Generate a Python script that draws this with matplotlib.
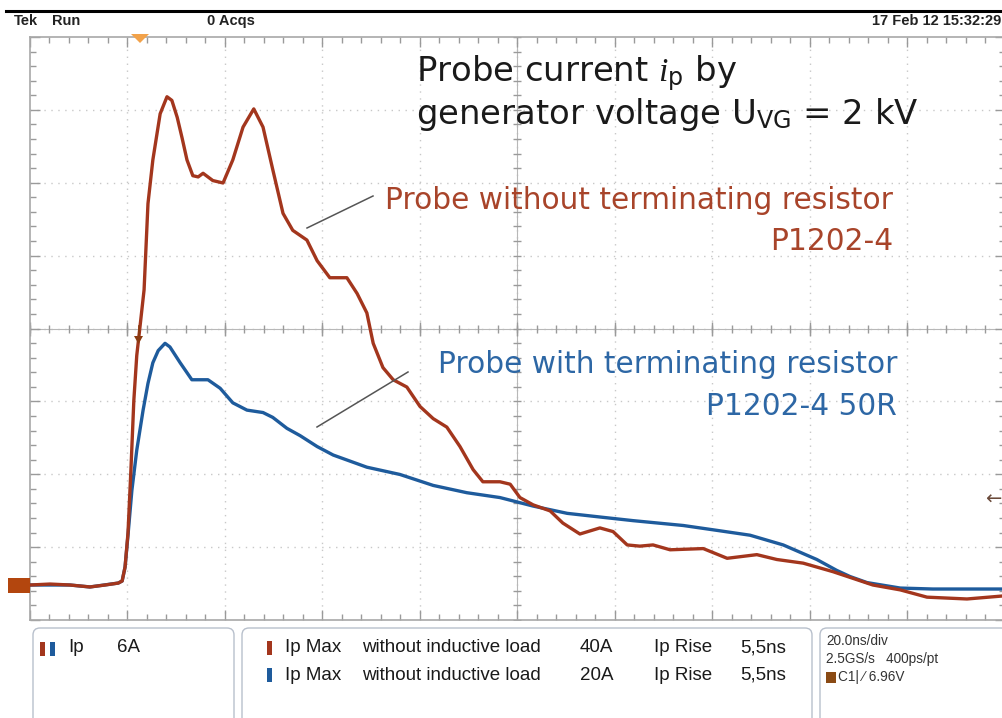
import numpy as np
import matplotlib
matplotlib.use("Agg")
import matplotlib.pyplot as plt
from matplotlib.patches import FancyBboxPatch, Polygon, Rectangle
from matplotlib.transforms import IdentityTransform
from matplotlib.lines import Line2D

# ---------------- data (time in ns, current in A) ----------------
t_red = [0.0, 4.1, 8.2, 12.3, 15.4, 18.1, 18.9, 19.5, 20.1, 20.7, 21.3, 21.9, 22.6, 23.4,
         24.2, 25.2, 26.7, 28.1, 29.1, 30.2, 31.2, 32.2, 33.4, 34.5, 35.5, 37.5, 39.6,
         41.6, 43.7, 45.9, 47.8, 49.8, 51.9, 53.9, 56.8, 58.9, 61.5, 65.0, 67.1, 69.1,
         70.4, 72.4, 74.5, 77.3, 80.0, 82.7, 85.5, 88.2, 90.9, 92.9, 96.4, 98.5, 100.5,
         103.2, 106.7, 109.3, 112.8, 116.9, 119.6, 122.5, 125.1, 127.8, 131.3, 138.1,
         143.0, 149.1, 153.2, 158.6, 164.7, 172.9, 178.5, 184.0, 192.2, 199.6]
i_red = [0.0, 0.08, 0.0, -0.16, 0.0, 0.16, 0.33, 1.48, 4.28, 9.47, 15.2, 18.9, 21.4, 24.3,
         31.4, 35.0, 38.8, 40.2, 39.9, 38.5, 36.8, 35.0, 33.7, 33.6, 33.9, 33.3, 33.1,
         35.0, 37.7, 39.2, 37.7, 34.2, 30.6, 29.2, 28.4, 26.7, 25.3, 25.3, 24.0, 22.4,
         19.9, 17.9, 16.9, 16.3, 14.7, 13.7, 13.0, 11.4, 9.5, 8.5, 8.5, 8.3, 7.2,
         6.6, 6.1, 5.1, 4.2, 4.7, 4.4, 3.3, 3.2, 3.3, 2.9, 3.0,
         2.2, 2.5, 2.1, 1.8, 1.1, 0.0, -0.4, -1.0, -1.15, -0.9]

t_blue = [0.0, 8.2, 12.3, 18.1, 18.9, 19.5, 20.1, 20.9, 21.9, 23.2, 24.2, 25.2, 26.3, 27.7,
          28.7, 30.8, 33.2, 34.9, 36.5, 39.0, 41.6, 44.5, 47.8, 49.8, 52.7, 55.4, 58.9,
          62.2, 69.1, 75.9, 82.7, 89.6, 96.4, 103.2, 110.2, 116.9, 123.7, 134.0, 140.9,
          147.7, 154.5, 161.4, 165.5, 168.2, 171.7, 178.5, 185.2, 199.6]
i_blue = [0.0, 0.0, -0.16, 0.16, 0.33, 1.48, 4.1, 7.8, 11.1, 14.4, 16.6, 18.3, 19.3, 19.9,
          19.6, 18.3, 16.9, 16.9, 16.9, 16.2, 15.0, 14.4, 14.2, 13.8, 12.9, 12.3, 11.4,
          10.7, 9.7, 9.1, 8.2, 7.6, 7.2, 6.5, 5.9, 5.6, 5.3, 4.9, 4.5,
          4.1, 3.3, 2.1, 1.2, 0.7, 0.2, -0.25, -0.33, -0.33]

ns_per_div = 20.0
amp_per_div = 6.0
n_xdiv, n_ydiv = 10, 8
zero_offset_div = 35 / 72.9   # ground marker sits this many divisions above the bottom

# ---------------- figure ----------------
W, H = 1003, 718
plt.rcParams['mathtext.fontset'] = 'custom'
plt.rcParams['mathtext.it'] = 'Liberation Serif:italic'
plt.rcParams['mathtext.rm'] = 'DejaVu Sans'
plt.rcParams['mathtext.sf'] = 'DejaVu Sans'

fig = plt.figure(figsize=(W / 100, H / 100), dpi=100)
fig.patch.set_facecolor('white')
PX = IdentityTransform()


def P(x, y):
    return x, H - y


ax = fig.add_axes([30 / W, 1 - 620 / H, 975 / W, 583 / H])
ax.set_facecolor('white')
y_lo = -zero_offset_div * amp_per_div
ax.set_xlim(0, n_xdiv * ns_per_div)
ax.set_ylim(y_lo, y_lo + n_ydiv * amp_per_div)

grid_c = '#c8c8c8'
xmaj = np.arange(0, n_xdiv + 1) * ns_per_div
ymaj = y_lo + np.arange(0, n_ydiv + 1) * amp_per_div
for x in xmaj[1:-1]:
    ax.axvline(x, color=grid_c, lw=1.0, ls=(0, (1, 4)), zorder=1)
for y in ymaj[1:-1]:
    ax.axhline(y, color=grid_c, lw=1.0, ls=(0, (1, 4)), zorder=1)

xc = n_xdiv / 2 * ns_per_div
yc = y_lo + n_ydiv / 2 * amp_per_div
ax.axvline(xc, color='#b8b8b8', lw=0.8, zorder=1)
ax.axhline(yc, color='#b8b8b8', lw=0.8, zorder=1)
xmin_t = np.arange(0, n_xdiv * 5 + 1) * ns_per_div / 5
ymin_t = y_lo + np.arange(0, n_ydiv * 5 + 1) * amp_per_div / 5
ax.plot(xmin_t, np.full_like(xmin_t, yc), ls='none', marker='|', ms=6, mew=1.0, color='#9a9a9a', zorder=1)
ax.plot(np.full_like(ymin_t, xc), ymin_t, ls='none', marker='_', ms=6, mew=1.0, color='#9a9a9a', zorder=1)
ax.plot(xmaj, np.full_like(xmaj, yc), ls='none', marker='|', ms=10, mew=1.0, color='#9a9a9a', zorder=1)

ax.set_xticks(xmaj)
ax.set_yticks(ymaj)
ax.set_xticks(xmin_t, minor=True)
ax.set_yticks(ymin_t, minor=True)
ax.tick_params(which='both', direction='in', colors='#9a9a9a', labelbottom=False, labelleft=False,
               top=True, right=True)
ax.tick_params(which='major', length=7, width=1.0)
ax.tick_params(which='minor', length=4, width=1.0)
for s in ax.spines.values():
    s.set_color('#a8a8a8')
    s.set_linewidth(1.2)

red = '#A3361D'
blue = '#1E5B9C'
ax.plot(t_blue, i_blue, color=blue, lw=2.4, solid_joinstyle='round', zorder=3)
ax.plot(t_red, i_red, color=red, lw=2.4, solid_joinstyle='round', zorder=4)

# ---------------- header ----------------
fig.add_artist(Line2D([6 / W, 1], [1 - 11 / H, 1 - 11 / H], color='black', lw=2.2))
hdr = dict(family='Liberation Sans', fontsize=10.5, fontweight='bold', color='#222222', va='center')
fig.text(*P(14, 21), 'Tek', transform=PX, **hdr)
fig.text(*P(52, 21), 'Run', transform=PX, **hdr)
fig.text(*P(207, 21), '0 Acqs', transform=PX, **hdr)
fig.text(*P(1001, 21), '17 Feb 12 15:32:29', transform=PX, ha='right', **hdr)

# markers on the screen
fig.add_artist(Polygon([P(131, 34), P(149, 34), P(140, 43)], closed=True, transform=PX,
                       facecolor='#F2A24A', edgecolor='none'))
fig.add_artist(Rectangle(P(8, 593), 22, 15, transform=PX, facecolor='#B3460E', edgecolor='none'))
fig.add_artist(Polygon([P(134, 336), P(143, 336), P(138.5, 344)], closed=True, transform=PX,
                       facecolor='#8A3A10', edgecolor='none', zorder=5))
fig.add_artist(Line2D([138.5 / W, 138.5 / W], [1 - 326 / H, 1 - 340 / H], color='#8A3A10', lw=1.2))
fig.text(*P(993, 499), '\u2190', transform=PX, ha='center', va='center', fontsize=14, color='#6a4a3a')

# ---------------- annotations ----------------
tfont = dict(family='DejaVu Sans', fontsize=24.4, color='#1a1a1a')
fig.text(*P(416, 81), r'Probe current $\mathit{i}_\mathrm{p}$ by', transform=PX, ha='left', va='baseline', **tfont)
fig.text(*P(416, 124), r'generator voltage U$_\mathrm{VG}$ = 2 kV', transform=PX, ha='left', va='baseline', **tfont)

red_t = '#A8442A'
blue_t = '#2D67A5'
afont = dict(family='DejaVu Sans', fontsize=21.3)
fig.text(*P(893, 209), 'Probe without terminating resistor', transform=PX, ha='right', va='baseline', color=red_t, **afont)
fig.text(*P(893, 250), 'P1202-4', transform=PX, ha='right', va='baseline', color=red_t, **afont)
fig.text(*P(897, 373), 'Probe with terminating resistor', transform=PX, ha='right', va='baseline', color=blue_t, **afont)
fig.text(*P(897, 415), 'P1202-4 50R', transform=PX, ha='right', va='baseline', color=blue_t, **afont)
fig.add_artist(Line2D([307 / W, 373 / W], [1 - 228 / H, 1 - 196 / H], color='#555555', lw=1.1))
fig.add_artist(Line2D([317 / W, 408 / W], [1 - 427 / H, 1 - 372 / H], color='#555555', lw=1.1))

# ---------------- bottom panels ----------------
def panel(x0, y0, x1, y1):
    x0d, y1d = P(x0, y1)
    fig.add_artist(FancyBboxPatch((x0d, y1d), x1 - x0, y1 - y0, transform=PX,
                                  boxstyle='round,pad=0,rounding_size=7',
                                  facecolor='white', edgecolor='#b8c0cc', lw=1.0))

panel(33, 628, 234, 725)
panel(242, 628, 812, 725)
panel(820, 628, 1008, 725)

pf = dict(family='Liberation Sans', fontsize=13.5, color='#1a1a1a', va='center')
fig.add_artist(Rectangle(P(40, 656), 5, 14, transform=PX, facecolor=red, edgecolor='none'))
fig.add_artist(Rectangle(P(50, 656), 5, 14, transform=PX, facecolor=blue, edgecolor='none'))
fig.text(*P(68, 648), 'Ip', transform=PX, **pf)
fig.text(*P(117, 648), '6A', transform=PX, **pf)

rows = [(648, red, '40A'), (675, blue, '20A')]
for yy, c, val in rows:
    fig.add_artist(Rectangle(P(267, yy + 7), 5, 14, transform=PX, facecolor=c, edgecolor='none'))
    fig.text(*P(285, yy), 'Ip Max', transform=PX, **pf)
    fig.text(*P(362, yy), 'without inductive load', transform=PX, **pf)
    fig.text(*P(580, yy), val, transform=PX, **pf)
    fig.text(*P(654, yy), 'Ip Rise', transform=PX, **pf)
    fig.text(*P(740, yy), '5,5ns', transform=PX, **pf)

sf = dict(family='Liberation Sans', fontsize=9.8, color='#333333', va='center')
fig.text(*P(826, 641), '20.0ns/div', transform=PX, **sf)
fig.text(*P(826, 659), '2.5GS/s   400ps/pt', transform=PX, **sf)
fig.add_artist(Rectangle(P(826, 683), 10, 11, transform=PX, facecolor='#8A4A14', edgecolor='none'))
fig.text(*P(838, 677), 'C1| \u2044 6.96V', transform=PX, **sf)

fig.savefig('out.png', dpi=100, facecolor='white')
